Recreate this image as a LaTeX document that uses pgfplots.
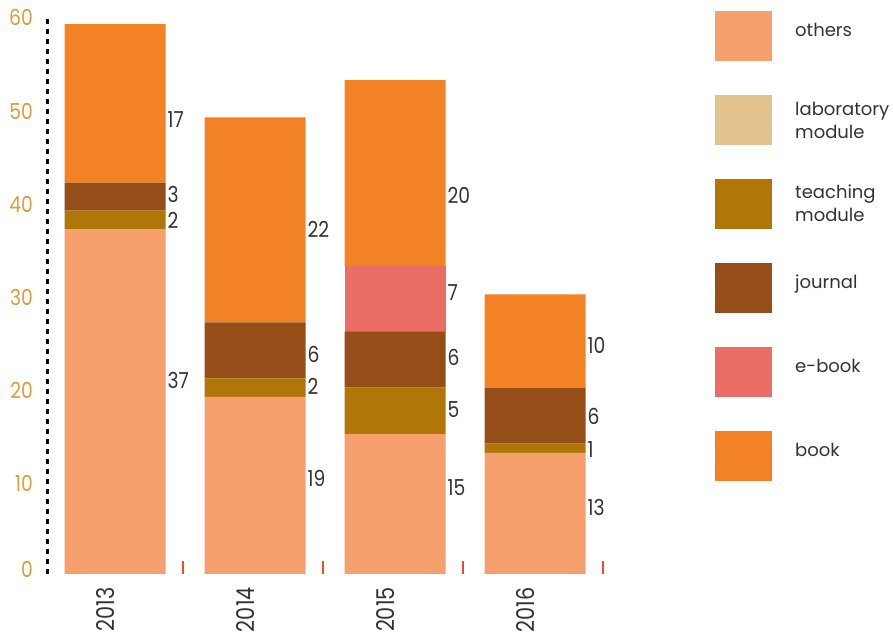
\documentclass[border=0pt]{standalone}
\usepackage{fontspec}
\setmainfont{Poppins}
\newfontfamily\numfont[FakeStretch=0.85]{Poppins}
\usepackage{pgfplots}
\pgfplotsset{compat=1.18}
\definecolor{cothers}{RGB}{246,160,110}
\definecolor{clab}{RGB}{226,194,142}
\definecolor{cteach}{RGB}{176,119,8}
\definecolor{cjournal}{RGB}{149,78,23}
\definecolor{cebook}{RGB}{235,110,102}
\definecolor{cbook}{RGB}{242,130,35}
\definecolor{ctick}{RGB}{214,158,62}
\definecolor{ctext}{RGB}{51,51,51}
\definecolor{cred}{RGB}{232,80,42}
\pgfplotsset{
  legbox/.style={legend image code/.code={\fill[##1] (0pt,-25pt) rectangle (57pt,25pt);}},
}
\tikzset{vlab/.style={anchor=west, inner sep=0pt, text=ctext, font=\numfont\fontsize{22}{22}\selectfont}}
\begin{document}
\begin{tikzpicture}[x=1pt,y=1pt]
\path[use as bounding box] (0,0) rectangle (893,639);
\begin{axis}[
  at={(47pt,65pt)}, anchor=south west,
  scale only axis, width=565pt, height=559.2pt,
  xmin=-0.486, xmax=3.55, ymin=0, ymax=60,
  ybar stacked, bar width=101pt,
  axis x line*=bottom, axis y line*=left,
  x axis line style={draw=none},
  y axis line style={black, line width=3pt, dash pattern=on 4.5pt off 5.5pt, -},
  tick align=inside, major tick length=13pt,
  xtick={0.486,1.486,2.486,3.486}, xticklabels={},
  xtick style={draw=cred, line width=1.8pt},
  extra x ticks={-0.07,0.93,1.93,2.93},
  extra x tick labels={2013,2014,2015,2016},
  extra x tick style={tick style={draw=none}},
  xticklabel style={rotate=90, anchor=east, inner sep=0pt, font=\numfont\fontsize{24.5}{24.5}\selectfont, text=ctext},
  xticklabel shift=13pt,
  ytick={10,20,30,40,50,60},
  extra y ticks={0},
  extra y tick style={tick style={draw=none}, yticklabel style={yshift=8pt}},
  ytick style={draw=none},
  yticklabel style={anchor=east, inner sep=0pt, yshift=-3pt, font=\numfont\fontsize{22}{22}\selectfont, text=ctick},
  yticklabel shift=14pt,
  /pgf/number format/assume math mode=true,
  legend cell align=left,
  legend style={at={(1.1823,1.0068)}, anchor=north west, draw=none, fill=none, inner sep=0pt,
    row sep=34pt, column sep=23pt,
    nodes={inner sep=0pt, anchor=base west, align=left, font=\fontsize{18}{23}\selectfont, text=ctext}},
]
\addplot[fill=cothers, draw=none, legbox] coordinates {(0,37) (1,19) (2,15) (3,13)};
\addlegendentry{others}
\addplot[fill=clab, draw=none, legbox] coordinates {(0,0) (1,0) (2,0) (3,0)};
\addlegendentry[yshift=-18pt]{laboratory\\module}
\addplot[fill=cteach, draw=none, legbox] coordinates {(0,2) (1,2) (2,5) (3,1)};
\addlegendentry[yshift=-17pt]{teaching\\module}
\addplot[fill=cjournal, draw=none, legbox] coordinates {(0,3) (1,6) (2,6) (3,6)};
\addlegendentry{journal}
\addplot[fill=cebook, draw=none, legbox] coordinates {(0,0) (1,0) (2,7) (3,0)};
\addlegendentry{e-book}
\addplot[fill=cbook, draw=none, legbox] coordinates {(0,17) (1,22) (2,20) (3,10)};
\addlegendentry{book}
\node[vlab] at (axis cs:0.375,48.71) {17};
\node[vlab] at (axis cs:0.375,40.77) {3};
\node[vlab] at (axis cs:0.375,37.98) {2};
\node[vlab] at (axis cs:0.375,20.82) {37};
\node[vlab] at (axis cs:1.375,37.02) {22};
\node[vlab] at (axis cs:1.375,23.61) {6};
\node[vlab] at (axis cs:1.375,20.17) {2};
\node[vlab] at (axis cs:1.375,10.30) {19};
\node[vlab] at (axis cs:2.375,40.67) {20};
\node[vlab] at (axis cs:2.375,30.15) {7};
\node[vlab] at (axis cs:2.375,23.28) {6};
\node[vlab] at (axis cs:2.375,17.60) {5};
\node[vlab] at (axis cs:2.375,9.23) {15};
\node[vlab] at (axis cs:3.375,24.57) {10};
\node[vlab] at (axis cs:3.375,16.95) {6};
\node[vlab] at (axis cs:3.375,13.30) {1};
\node[vlab] at (axis cs:3.375,7.19) {13};
\end{axis}
\end{tikzpicture}
\end{document}
